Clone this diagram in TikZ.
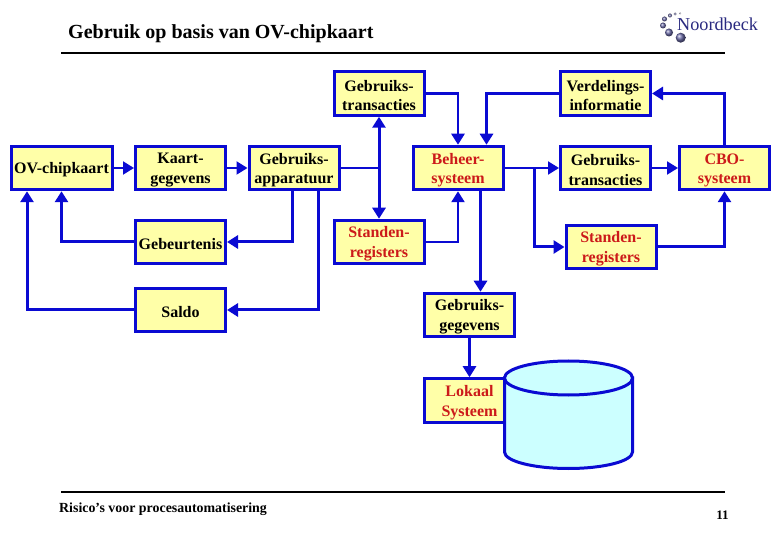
\documentclass[tikz,border=0pt]{standalone}
\usepackage{fontspec}
\setmainfont{Liberation Serif}
\usetikzlibrary{arrows.meta,shadings}
\definecolor{flowblue}{HTML}{0A0AD2}
\definecolor{boxfill}{HTML}{FFFFA8}
\definecolor{redtext}{HTML}{CC1A1A}
\definecolor{cylfill}{HTML}{CCFFFF}
\definecolor{logoblue}{HTML}{2A2A80}
\newcommand{\dropline}{\rule{0pt}{15pt}}
\tikzset{
  x=1pt,y=-1pt,
  flowbox/.style={draw=flowblue,fill=boxfill,line width=3pt,minimum width=90pt,minimum height=43.5pt,inner sep=0pt,
    align=center,font=\fontsize{16}{19.5}\selectfont\bfseries,text=black},
  redbox/.style={flowbox,text=redtext},
  link/.style={draw=flowblue,line width=3pt,-{Triangle[length=11pt,width=13pt]}},
  thinlink/.style={link,line width=2pt},
  plainlink/.style={draw=flowblue,line width=2pt},
  rulebar/.style={draw=black,line width=2pt},
  ball/.style={circle,inner sep=0pt,ball color=logoblue!70!white,shading=ball}
}
\begin{document}
\begin{tikzpicture}
\useasboundingbox (0,0) rectangle (780,540);
% header and footer
\node[anchor=west,font=\fontsize{20}{22}\selectfont\bfseries,inner sep=0pt] (title) at (68,34) {Gebruik op basis van OV-chipkaart};
\coordinate (ruleAa) at (61,53); \coordinate (ruleAb) at (725,53);
\draw[rulebar] (ruleAa) -- (ruleAb);
\coordinate (ruleBa) at (61,491.5); \coordinate (ruleBb) at (725,491.5);
\draw[rulebar] (ruleBa) -- (ruleBb);
\node[anchor=west,font=\fontsize{13.9}{15}\selectfont\bfseries,inner sep=0pt] (foot) at (59,509.5) {Risico’s voor procesautomatisering};
\node[font=\fontsize{13}{15}\selectfont\bfseries,inner sep=0pt] (page) at (722.5,515) {11};
% logo
\node[anchor=west,inner sep=0pt,font=\fontsize{18.2}{20}\selectfont,text=logoblue] (logo) at (677,24.5) {Noordbeck};
\foreach \px/\py/\pr/\pn in {680.7/37.7/5/a,669/32.5/4/b,663/25.5/3/c,664.5/19/2.5/d,670/15.5/2/e,675/14/1.5/f,680/13.5/1/g}
  \node[ball,minimum size=2*\pr pt] (logo\pn) at (\px,\py) {};
% boxes
\node[flowbox,minimum width=101pt] (ov) at (61.5,168) {\dropline OV-chipkaart};
\node[flowbox] (kaart) at (180.5,168) {\dropline Kaart-\\gegevens};
\node[flowbox] (app) at (294,168) {\dropline Gebruiks-\\apparatuur};
\node[flowbox] (gebeur) at (180.5,242) {\dropline Gebeurtenis};
\node[flowbox] (saldo) at (180.5,310) {\dropline Saldo};
\node[flowbox] (transA) at (379,93.5) {\dropline Gebruiks-\\transacties};
\node[redbox] (standA) at (379,242) {\dropline Standen-\\registers};
\node[redbox] (beheer) at (458,168) {\dropline Beheer-\\systeem};
\node[flowbox] (verdeel) at (605.5,93.5) {\dropline Verdelings-\\informatie};
\node[flowbox] (transB) at (605.5,168) {\dropline Gebruiks-\\transacties};
\node[redbox] (cbo) at (724.5,168) {\dropline CBO-\\systeem};
\node[redbox] (standB) at (611,247) {\dropline Standen-\\registers};
\node[flowbox] (gegevens) at (469.5,315) {\dropline Gebruiks-\\gegevens};
\node[redbox] (lokaal) at (469.5,400.5) {\dropline Lokaal\\Systeem};
% cylinder
\draw[draw=flowblue,fill=cylfill,line width=3pt]
  (504.5,378) -- (504.5,452) arc[start angle=180,end angle=360,x radius=64,y radius=-16.5]
  -- (632.5,378) -- cycle;
\draw[draw=flowblue,fill=cylfill,line width=3pt] (568.5,378) ellipse[x radius=64,y radius=17];
% connectors
\draw[thinlink] (ov) -- (kaart);
\draw[thinlink] (kaart) -- (app);
\draw[link,{Triangle[length=11pt,width=13pt]}-{Triangle[length=11pt,width=13pt]}] (transA.south) -- (standA.north);
\coordinate (junction) at (transA.south |- app.east);
\draw[plainlink] (app.east) -- (junction);
\draw[link] ([xshift=-1.5pt]app.south) |- (gebeur.east);
\draw[link] ([xshift=24.5pt]app.south) |- (saldo.east);
\draw[link] (gebeur.west) -| (ov.south);
\draw[link] (saldo.west) -| ([xshift=-34.5pt]ov.south);
\draw[link,line width=2.5pt] (transA.east) -| (beheer.north);
\draw[link,line width=2.5pt] (standA.east) -| (beheer.south);
\draw[link] (verdeel.west) -| ([xshift=28.5pt]beheer.north);
\draw[link] ([xshift=22.5pt]beheer.south) -- ([xshift=11pt]gegevens.north);
\draw[link,line width=2.5pt] (gegevens.south) -- (lokaal.north);
\draw[thinlink] (beheer.east) -- (transB.west);
\coordinate (branch) at (534,168);
\draw[link] (branch) |- (standB.west);
\draw[thinlink] (transB.east) -- (cbo.west);
\draw[link] (standB.east) -| (cbo.south);
\draw[link] (cbo.north) |- (verdeel.east);
\end{tikzpicture}
\end{document}
